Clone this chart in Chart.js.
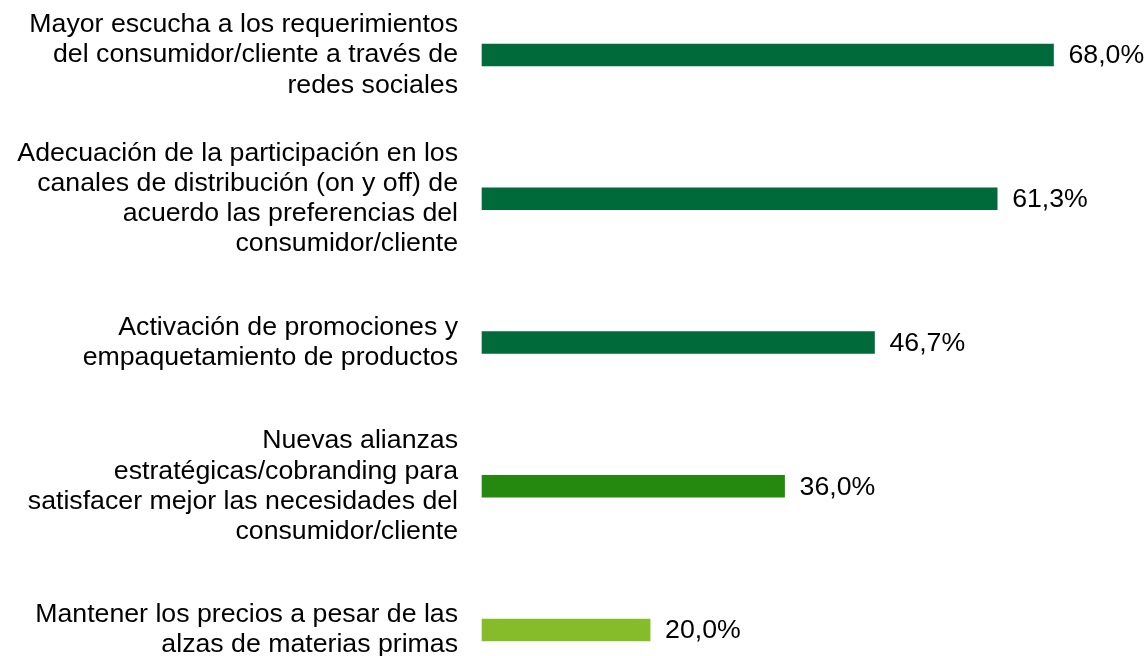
<!DOCTYPE html>
<html lang="es">
<head>
<meta charset="utf-8">
<title>Acciones orientadas al consumidor</title>
<script src="https://cdn.jsdelivr.net/npm/chart.js@4.4.1/dist/chart.umd.min.js"></script>
<style>
  html, body { margin: 0; padding: 0; background: #fff; }
  #wrap { position: relative; width: 1148px; height: 656px; }
</style>
</head>
<body>
<div id="wrap"><canvas id="cv"></canvas></div>
<script>
// categorías (una línea por renglón, como en la lámina original)
var categories = [
  ['Mayor escucha a los requerimientos', 'del consumidor/cliente a través de', 'redes sociales'],
  ['Adecuación de la participación en los', 'canales de distribución (on y off) de', 'acuerdo las preferencias del', 'consumidor/cliente'],
  ['Activación de promociones y', 'empaquetamiento de productos'],
  ['Nuevas alianzas', 'estratégicas/cobranding para', 'satisfacer mejor las necesidades del', 'consumidor/cliente'],
  ['Mantener los precios a pesar de las', 'alzas de materias primas']
];
var values = [68.0, 61.3, 46.7, 36.0, 20.0];
var barColors = ['#006a3a', '#006a3a', '#006a3a', '#26890f', '#86bc29'];

var FONT = 'Liberation Sans, Arial, sans-serif';
var FSIZE = 26.7;

function pct(v) { return v.toFixed(1).replace('.', ',') + '%'; }

// etiquetas de valor a la derecha de cada barra
var valueLabels = {
  id: 'valueLabels',
  afterDatasetsDraw: function (chart) {
    var ctx = chart.ctx;
    var meta = chart.getDatasetMeta(0);
    ctx.save();
    ctx.font = FSIZE + 'px ' + FONT;
    ctx.fillStyle = '#000';
    ctx.textAlign = 'left';
    ctx.textBaseline = 'middle';
    meta.data.forEach(function (bar, i) {
      ctx.fillText(pct(values[i]), bar.x + 15, bar.y + 1);
    });
    ctx.restore();
  }
};

new Chart(document.getElementById('cv'), {
  type: 'bar',
  data: {
    labels: categories,
    datasets: [{
      data: values,
      backgroundColor: barColors,
      borderWidth: 0,
      barThickness: 22,
      clip: false
    }]
  },
  options: {
    indexAxis: 'y',
    responsive: true,
    maintainAspectRatio: false,
    devicePixelRatio: 1,
    animation: false,
    layout: { padding: { top: 55, bottom: 26, left: 0, right: 34 } },
    plugins: { legend: { display: false }, tooltip: { enabled: false } },
    scales: {
      x: { display: false, min: 0, max: 75.2 },
      y: {
        offset: false,
        grid: { display: false, drawTicks: false },
        border: { display: false },
        ticks: {
          autoSkip: false,
          padding: 24,
          color: '#000',
          font: { family: FONT, size: FSIZE, lineHeight: 1.13 }
        },
        afterFit: function (s) { s.width = 482; s.paddingTop = 0; s.paddingBottom = 0; }
      }
    }
  },
  plugins: [valueLabels]
});
</script>
</body>
</html>
